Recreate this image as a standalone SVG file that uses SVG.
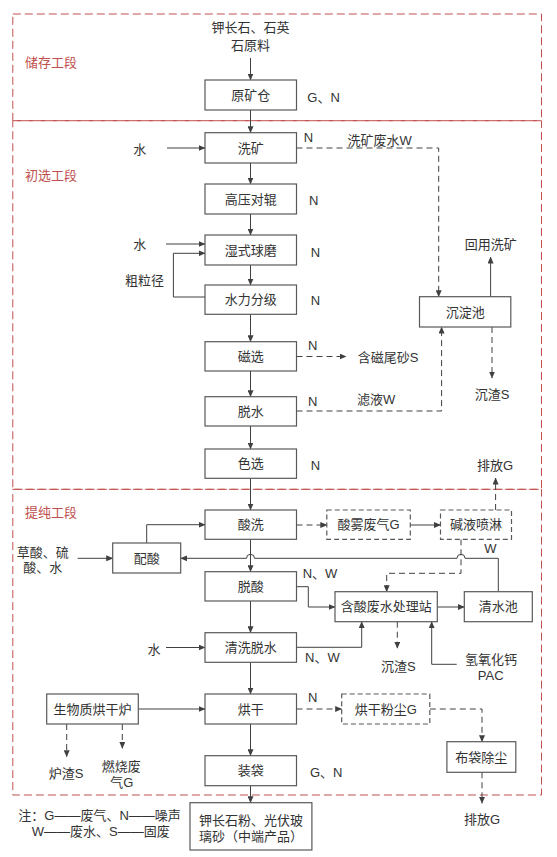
<svg xmlns="http://www.w3.org/2000/svg" width="557" height="857" viewBox="0 0 557 857">
<defs>
<style>
text{font-family:"Liberation Sans","Noto Sans CJK SC",sans-serif;font-size:13px;fill:#333;dominant-baseline:central}
.c{text-anchor:middle}
.sec{fill:#c0504d}
.zone{fill:none;stroke:#c0504d;stroke-width:1;stroke-dasharray:8,4}
.box{fill:#fff;stroke:#595959;stroke-width:1.2}
.dbox{fill:#fff;stroke:#595959;stroke-width:1.2;stroke-dasharray:5,3}
.ln{fill:none;stroke:#404040;stroke-width:1}
.da{fill:none;stroke:#404040;stroke-width:1;stroke-dasharray:6,4}
.ar{marker-end:url(#ah)}
</style>
<marker id="ah" markerWidth="7" markerHeight="6" refX="6.5" refY="3" orient="auto" markerUnits="userSpaceOnUse">
<path d="M0,0 L7,3 L0,6 Z" fill="#404040"/>
</marker>
</defs>
<rect width="557" height="857" fill="#fff"/>
<g id="zones">
<rect class="zone" x="12.8" y="14" width="528.7" height="106.7"/>
<rect class="zone" x="12.8" y="120.7" width="528.7" height="368.6"/>
<rect class="zone" x="12.8" y="489.3" width="528.7" height="305.7"/>
<text class="sec" x="24.9" y="62">储存工段</text>
<text class="sec" x="24.9" y="175">初选工段</text>
<text class="sec" x="24.9" y="512.7">提纯工段</text>
</g>
<g id="connectors">
<path class="ln ar" d="M250.5,58 V80"/>
<path class="ln ar" d="M250.5,110 V132.7"/>
<path class="ln ar" d="M250.5,163 V184"/>
<path class="ln ar" d="M250.5,214 V235"/>
<path class="ln ar" d="M250.5,265 V285"/>
<path class="ln ar" d="M250.5,314.3 V341.7"/>
<path class="ln ar" d="M250.5,371 V396.7"/>
<path class="ln ar" d="M250.5,426 V449"/>
<path class="ln ar" d="M250.5,478.3 V510"/>
<path class="ln ar" d="M250.5,539.3 V571.7"/>
<path class="ln ar" d="M250.5,601 V632.7"/>
<path class="ln ar" d="M250.5,662.3 V694"/>
<path class="ln ar" d="M250.5,724 V755.7"/>
<path class="ln ar" d="M250.5,785.7 V802.7"/>
<path class="ln ar" d="M167,148 H205"/>
<path class="ln ar" d="M166,244 H205"/>
<path class="ln ar" d="M205,297 H173.4 V253.3 H205"/>
<path class="da ar" d="M296.5,148 H438.7 V296.7"/>
<path class="ln ar" d="M490.6,296.7 V257"/>
<path class="da ar" d="M492,327 V378"/>
<path class="da ar" d="M296.5,356.5 H346"/>
<path class="da ar" d="M296.5,411 H441.6 V327"/>
<path class="da ar" d="M296.5,525 H326.8"/>
<path class="ln ar" d="M410.3,525 H440.5"/>
<path class="da ar" d="M495.6,510 V478"/>
<path class="ln ar" d="M146.7,543 V524.7 H205"/>
<path class="ln ar" d="M77.7,558.3 H112.7"/>
<path class="ln ar" d="M498.3,591.7 V558.3 H465 A4,4 0 0 0 457,558.3 H254.5 A4,4 0 0 0 246.5,558.3 H180.7"/>
<path class="da ar" d="M461,539.3 V573.3 H386.7 V591.7"/>
<path class="ln ar" d="M296.5,586.7 H308.3 V607 H335"/>
<path class="ln ar" d="M437.3,607 H464.3"/>
<path class="ln ar" d="M296.5,647.3 H361.7 V621.7"/>
<path class="da ar" d="M397.3,621.7 V648.3"/>
<path class="ln ar" d="M456.7,664.3 H431.7 V621.7"/>
<path class="ln ar" d="M166,647.5 H205"/>
<path class="ln ar" d="M138.3,709 H205"/>
<path class="da ar" d="M296.5,709 H341.7"/>
<path class="da ar" d="M429.8,709 H482 V741.7"/>
<path class="da ar" d="M482,772.3 V803.3"/>
<path class="da ar" d="M66.7,724 V756.7"/>
<path class="da ar" d="M122.3,724 V748.3"/>
</g>
<g id="raw"><text class="c" x="250.5" y="27">钾长石、石英</text><text class="c" x="250.5" y="45">石原料</text></g>
<g id="n-ykc"><rect class="box" x="205" y="80" width="91.5" height="30"/><text class="c" x="250.75" y="95">原矿仓</text><text x="307.3" y="97">G、N</text></g>
<g id="n-xk"><rect class="box" x="205" y="132.7" width="91.5" height="30.3"/><text class="c" x="250.75" y="148">洗矿</text><text x="303.7" y="137">N</text><text x="347.4" y="140">洗矿废水W</text><text x="133.2" y="149">水</text></g>
<g id="n-gydg"><rect class="box" x="205" y="184" width="91.5" height="30"/><text class="c" x="250.75" y="199">高压对辊</text><text x="309" y="200">N</text></g>
<g id="n-ssqm"><rect class="box" x="205" y="235" width="91.5" height="30"/><text class="c" x="250.75" y="250">湿式球磨</text><text x="310.8" y="252">N</text><text x="133.2" y="244">水</text></g>
<g id="n-slfj"><rect class="box" x="205" y="285" width="91.5" height="29.3"/><text class="c" x="250.75" y="299.7">水力分级</text><text x="310.8" y="300.7">N</text><text x="125" y="280">粗粒径</text></g>
<g id="n-cdc"><rect class="box" x="419.5" y="296.7" width="91.3" height="30.3"/><text class="c" x="465.2" y="312">沉淀池</text><text x="464.7" y="244">回用洗矿</text><text class="c" x="492" y="394">沉渣S</text></g>
<g id="n-cx"><rect class="box" x="205" y="341.7" width="91.5" height="29.3"/><text class="c" x="250.75" y="356.4">磁选</text><text x="308" y="345">N</text><text x="357.7" y="357">含磁尾砂S</text></g>
<g id="n-ts"><rect class="box" x="205" y="396.7" width="91.5" height="29.3"/><text class="c" x="250.75" y="411.4">脱水</text><text x="308" y="401">N</text><text x="357" y="399.3">滤液W</text></g>
<g id="n-sx"><rect class="box" x="205" y="449" width="91.5" height="29.3"/><text class="c" x="250.75" y="463.7">色选</text><text x="310.8" y="465">N</text></g>
<g id="n-sxi"><rect class="box" x="205" y="510" width="91.5" height="29.3"/><text class="c" x="250.75" y="524.7">酸洗</text></g>
<g id="n-swfq"><rect class="dbox" x="326.8" y="510" width="83.5" height="29.3"/><text class="c" x="368.5" y="524.7">酸雾废气G</text></g>
<g id="n-jypl"><rect class="dbox" x="440.5" y="510" width="71" height="29.3"/><text class="c" x="476" y="524.7">碱液喷淋</text><text x="477" y="465.7">排放G</text><text x="484.2" y="548">W</text></g>
<g id="n-ps"><rect class="box" x="112.7" y="543" width="68" height="30"/><text class="c" x="146.7" y="558">配酸</text><text x="16.7" y="552.7">草酸、硫</text><text x="23.3" y="567.7">酸、水</text></g>
<g id="n-tsu"><rect class="box" x="205" y="571.7" width="91.5" height="29.3"/><text class="c" x="250.75" y="586.4">脱酸</text><text x="302.7" y="573">N、W</text></g>
<g id="n-hsfs"><rect class="box" x="335" y="591.7" width="102.3" height="30"/><text class="c" x="386.2" y="606.7">含酸废水处理站</text><text class="c" x="398.3" y="666.7">沉渣S</text><text x="465" y="659.3">氢氧化钙</text><text class="c" x="490.7" y="675">PAC</text></g>
<g id="n-qsc"><rect class="box" x="464.3" y="591.7" width="68" height="30"/><text class="c" x="498.3" y="606.7">清水池</text></g>
<g id="n-qxts"><rect class="box" x="205" y="632.7" width="91.5" height="29.6"/><text class="c" x="250.75" y="647.5">清洗脱水</text><text x="147.4" y="649">水</text><text x="305" y="657.3">N、W</text></g>
<g id="n-swz"><rect class="box" x="46.7" y="694" width="91.6" height="30"/><text class="c" x="92.5" y="709">生物质烘干炉</text><text class="c" x="66" y="773.3">炉渣S</text><text x="101.7" y="766">燃烧废</text><text class="c" x="121.7" y="782.3">气G</text></g>
<g id="n-hg"><rect class="box" x="205" y="694" width="91.5" height="30"/><text class="c" x="250.75" y="709">烘干</text><text x="308" y="697">N</text></g>
<g id="n-hgfc"><rect class="dbox" x="341.7" y="694" width="88.1" height="30"/><text class="c" x="385.7" y="709">烘干粉尘G</text></g>
<g id="n-bdcc"><rect class="box" x="446.9" y="741.7" width="68.9" height="30.6"/><text class="c" x="481.3" y="757">布袋除尘</text><text class="c" x="482" y="819.3">排放G</text></g>
<g id="n-zd"><rect class="box" x="205" y="755.7" width="91.5" height="30"/><text class="c" x="250.75" y="770.7">装袋</text><text x="310" y="772.7">G、N</text></g>
<g id="n-cp"><rect class="box" x="190" y="802.7" width="121.9" height="47.3"/><text class="c" x="251" y="820">钾长石粉、光伏玻</text><text class="c" x="251" y="836.7">璃砂（中端产品）</text></g>
<g id="note"><text x="18.3" y="815">注：G——废气、N——噪声</text><text x="31.7" y="831.7">W——废水、S——固废</text></g>
</svg>
